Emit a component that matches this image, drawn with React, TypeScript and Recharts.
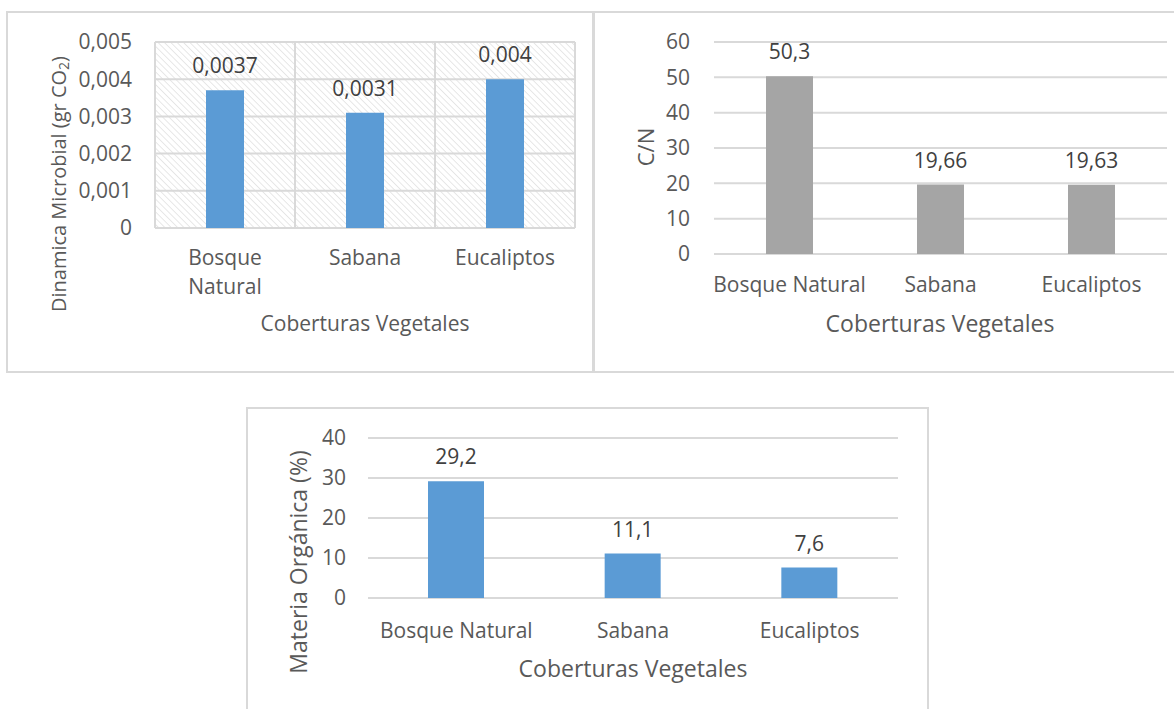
import React from 'react';
import { BarChart, Bar, XAxis, YAxis, CartesianGrid, LabelList, Label } from 'recharts';

const CATEGORIES = ['Bosque Natural', 'Sabana', 'Eucaliptos'];
const MICROBIAL = [0.0037, 0.0031, 0.004];
const CN_RATIO = [50.3, 19.66, 19.63];
const ORGANIC_MATTER = [29.2, 11.1, 7.6];

const MICROBIAL_TICKS = [0, 0.001, 0.002, 0.003, 0.004, 0.005];
const CN_TICKS = [0, 10, 20, 30, 40, 50, 60];
const OM_TICKS = [0, 10, 20, 30, 40];

const FONT = '"Open Sans", sans-serif';
const TEXT = '#595959';
const LABEL_TEXT = '#404040';
const GRID = '#D9D9D9';
const BLUE = '#5B9BD5';
const GRAY = '#A5A5A5';

const toRows = (values: number[]) => CATEGORIES.map((name, i) => ({ name, value: values[i] }));
const comma = (v: any) => String(v).replace('.', ',');

const CategoryTick = (props: any) => {
  const { x, y, payload, wrap } = props;
  const lines: string[] = wrap ? String(payload.value).split(' ') : [String(payload.value)];
  return (
    <text x={x} y={y} textAnchor="middle" fill={TEXT} fontSize={21} fontFamily={FONT}>
      {lines.map((line, i) => (
        <tspan key={i} x={x} dy={i === 0 ? '0.71em' : 29}>{line}</tspan>
      ))}
    </text>
  );
};

// rotated axis title, position in chart coordinates
const SideTitle = ({ cx, cy, size, children }: any) => (
  <text
    transform={`translate(${cx},${cy}) rotate(-90)`}
    textAnchor="middle"
    dominantBaseline="central"
    fill={TEXT}
    fontSize={size}
    fontFamily={FONT}
  >
    {children}
  </text>
);

const BottomTitle = ({ cx, cy, size }: any) => (
  <text x={cx} y={cy} textAnchor="middle" dominantBaseline="central" fill={TEXT} fontSize={size} fontFamily={FONT}>
    Coberturas Vegetales
  </text>
);

const panel = (left: number, top: number, width: number, height: number): React.CSSProperties => ({
  position: 'absolute',
  left,
  top,
  width,
  height,
  boxSizing: 'border-box',
  border: `2px solid ${GRID}`,
});

const App: React.FC = () => {
  return (
    <div style={{ position: 'absolute', left: 0, top: 0, width: 1174, height: 709, background: '#fff', overflow: 'hidden' }}>
      <div style={panel(6, 11, 589, 362)} />
      <div style={panel(592, 11, 600, 362)} />
      <div style={panel(246, 407, 683, 320)} />

      {/* Dinamica microbial */}
      <div style={{ position: 'absolute', left: 7, top: 13 }}>
        <BarChart width={586} height={358} data={toRows(MICROBIAL)} margin={{ top: 29, right: 18, left: 0, bottom: 0 }}>
          <defs>
            <pattern id="hatch" width="4.5" height="4.5" patternUnits="userSpaceOnUse" patternTransform="rotate(-45)">
              <line x1="0" y1="0" x2="0" y2="4.5" stroke="#CFCFCF" strokeWidth="1" />
            </pattern>
          </defs>
          <CartesianGrid
            stroke={GRID}
            strokeWidth={2}
            fill="url(#hatch)"
            fillOpacity={1}
            vertical
            verticalCoordinatesGenerator={({ offset }: any) =>
              [0, 1, 2, 3].map((i) => offset.left + (offset.width * i) / CATEGORIES.length)
            }
          />
          <XAxis
            dataKey="name"
            axisLine={false}
            tickLine={false}
            tickSize={0}
            tickMargin={22}
            height={143}
            interval={0}
            tick={(p: any) => <CategoryTick {...p} wrap />}
          >
            <Label content={() => <BottomTitle cx={358} cy={310} size={21} />} />
          </XAxis>
          <YAxis
            width={148}
            domain={[0, 0.005]}
            ticks={MICROBIAL_TICKS}
            axisLine={false}
            tickLine={false}
            tickSize={0}
            tickMargin={23}
            tickFormatter={comma}
            tick={{ fill: TEXT, fontSize: 21, fontFamily: FONT }}
          >
            <Label
              content={() => (
                <SideTitle cx={51} cy={171} size={20}>
                  Dinamica Microbial (gr CO
                  <tspan dy={5} fontSize={14}>2</tspan>
                  <tspan dy={-5}>)</tspan>
                </SideTitle>
              )}
            />
          </YAxis>
          <Bar dataKey="value" fill={BLUE} barSize={38} isAnimationActive={false}>
            <LabelList dataKey="value" position="top" offset={17} formatter={comma} fill={LABEL_TEXT} fontSize={21} fontFamily={FONT} />
          </Bar>
        </BarChart>
      </div>

      {/* C/N */}
      <div style={{ position: 'absolute', left: 593, top: 13 }}>
        <BarChart width={581} height={358} data={toRows(CN_RATIO)} margin={{ top: 29, right: 7, left: 0, bottom: 0 }}>
          <CartesianGrid stroke={GRID} strokeWidth={2} vertical={false} />
          <XAxis
            dataKey="name"
            axisLine={false}
            tickLine={false}
            tickSize={0}
            tickMargin={23}
            height={117}
            interval={0}
            tick={(p: any) => <CategoryTick {...p} />}
          >
            <Label content={() => <BottomTitle cx={347} cy={310} size={23} />} />
          </XAxis>
          <YAxis
            width={121}
            domain={[0, 60]}
            ticks={CN_TICKS}
            axisLine={false}
            tickLine={false}
            tickSize={0}
            tickMargin={24}
            tick={{ fill: TEXT, fontSize: 21, fontFamily: FONT }}
          >
            <Label content={() => <SideTitle cx={52} cy={134} size={22}>C/N</SideTitle>} />
          </YAxis>
          <Bar dataKey="value" fill={GRAY} barSize={47} isAnimationActive={false}>
            <LabelList dataKey="value" position="top" offset={17} formatter={comma} fill={LABEL_TEXT} fontSize={21} fontFamily={FONT} />
          </Bar>
        </BarChart>
      </div>

      {/* Materia organica */}
      <div style={{ position: 'absolute', left: 248, top: 409 }}>
        <BarChart width={680} height={300} data={toRows(ORGANIC_MATTER)} margin={{ top: 29, right: 30, left: 0, bottom: 0 }}>
          <CartesianGrid stroke={GRID} strokeWidth={2} vertical={false} />
          <XAxis
            dataKey="name"
            axisLine={false}
            tickLine={false}
            tickSize={0}
            tickMargin={25}
            height={111}
            interval={0}
            tick={(p: any) => <CategoryTick {...p} />}
          >
            <Label content={() => <BottomTitle cx={385} cy={259} size={23} />} />
          </XAxis>
          <YAxis
            width={120}
            domain={[0, 40]}
            ticks={OM_TICKS}
            axisLine={false}
            tickLine={false}
            tickSize={0}
            tickMargin={22}
            tick={{ fill: TEXT, fontSize: 21, fontFamily: FONT }}
          >
            <Label content={() => <SideTitle cx={50} cy={153} size={23}>Materia Orgánica (%)</SideTitle>} />
          </YAxis>
          <Bar dataKey="value" fill={BLUE} barSize={56} isAnimationActive={false}>
            <LabelList dataKey="value" position="top" offset={17} formatter={comma} fill={LABEL_TEXT} fontSize={21} fontFamily={FONT} />
          </Bar>
        </BarChart>
      </div>
    </div>
  );
};

export default App;
